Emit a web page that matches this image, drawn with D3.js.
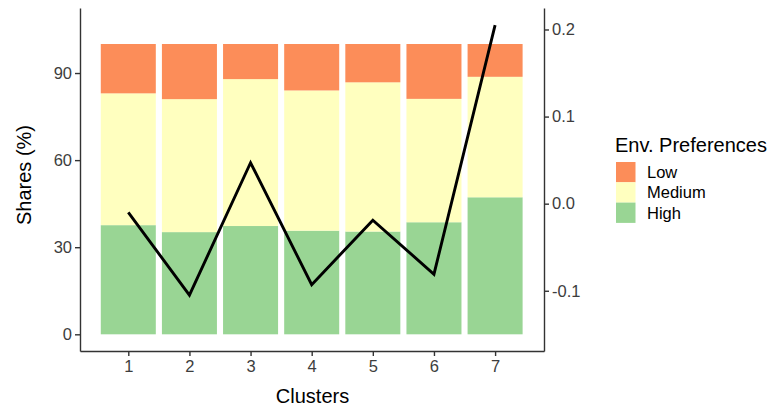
<!DOCTYPE html>
<html>
<head>
<meta charset="utf-8">
<script src="https://cdn.jsdelivr.net/npm/d3@7"></script>
<style>
  html, body { margin: 0; padding: 0; background: #fff; }
  svg { display: block; font-family: "Liberation Sans", Arial, Helvetica, sans-serif; }
</style>
</head>
<body>
<svg id="chart" width="773" height="409"></svg>
<script>
// ---- Data ----
const clusters = [1, 2, 3, 4, 5, 6, 7];
const categories = ["Low", "Medium", "High"];
const highShare   = [37.6, 35.2, 37.3, 35.7, 35.4, 38.6, 47.2];
const mediumShare = [45.4, 45.8, 50.6, 48.3, 51.4, 42.5, 41.5];
const lowShare    = [17.0, 19.0, 12.1, 16.0, 13.2, 18.9, 11.3];
const lineValues  = [-0.010, -0.105, 0.047, -0.093, -0.019, -0.081, 0.205];
const leftTicks   = [0, 30, 60, 90];
const rightTicks  = [-0.1, 0.0, 0.1, 0.2];
const colors = { Low: "#fc8d59", Medium: "#ffffbf", High: "#99d594" };
const secOffset = 45, secFactor = 300; // left = offset + factor * right

(function () {
// ---- Layout ----
const svg = d3.select("#chart");
const pL = 80, pR = 544, pT = 8, pB = 351;

const x = d3.scaleLinear().domain([0.21, 7.80]).range([pL, pR]);
const y = d3.scaleLinear().domain([-5.75, 112.4]).range([pB, pT]);
const yR = d3.scaleLinear()
  .domain([(-5.75 - secOffset) / secFactor, (112.4 - secOffset) / secFactor])
  .range([pB, pT]);

// stacked data: High at bottom, then Medium, then Low
const rows = clusters.map((c, i) => ({ cluster: c, High: highShare[i], Medium: mediumShare[i], Low: lowShare[i] }));
const stack = d3.stack().keys(["High", "Medium", "Low"])(rows);

const barW = 0.9;
svg.append("g").selectAll("g").data(stack).join("g")
  .attr("fill", d => colors[d.key])
  .selectAll("rect").data(d => d).join("rect")
  .attr("x", d => x(d.data.cluster - barW / 2))
  .attr("width", d => x(barW) - x(0))
  .attr("y", d => y(d[1]))
  .attr("height", d => y(d[0]) - y(d[1]));

// line (secondary axis)
const line = d3.line()
  .x((d, i) => x(clusters[i]))
  .y(d => yR(d));
svg.append("path").datum(lineValues)
  .attr("d", line)
  .attr("fill", "none")
  .attr("stroke", "#000")
  .attr("stroke-width", 2.9)
  .attr("stroke-linejoin", "miter");

// axes
const axisColor = "#333";
const textColor = "#3d3d3d";
function styleAxis(g) {
  g.select(".domain").attr("stroke", axisColor).attr("stroke-width", 1.4);
  g.selectAll(".tick line").attr("stroke", axisColor).attr("stroke-width", 1.4);
  g.selectAll(".tick text").attr("fill", textColor).attr("font-size", 16.5)
    .attr("font-family", "Liberation Sans, Arial, sans-serif");
}

const gx = svg.append("g").attr("transform", `translate(0,${pB})`)
  .call(d3.axisBottom(x).tickValues(clusters).tickFormat(d3.format("d")).tickSizeInner(5).tickSizeOuter(0).tickPadding(4));
styleAxis(gx);

const gy = svg.append("g").attr("transform", `translate(${pL},0)`)
  .call(d3.axisLeft(y).tickValues(leftTicks).tickSizeInner(5).tickSizeOuter(0).tickPadding(3));
styleAxis(gy);

const gr = svg.append("g").attr("transform", `translate(${pR},0)`)
  .call(d3.axisRight(yR).tickValues(rightTicks).tickFormat(d3.format(".1f")).tickSizeInner(5).tickSizeOuter(0).tickPadding(3));
styleAxis(gr);
gr.selectAll(".tick text").text(d => d3.format(".1f")(d).replace("−", "-"));

// axis titles
svg.append("text")
  .attr("x", (pL + pR) / 2 + 0.5).attr("y", 403)
  .attr("text-anchor", "middle").attr("font-size", 20).attr("fill", "#000")
  .text("Clusters");
svg.append("text")
  .attr("transform", `translate(31,175) rotate(-90)`)
  .attr("text-anchor", "middle").attr("font-size", 20).attr("fill", "#000")
  .text("Shares (%)");

// legend
const lg = svg.append("g");
lg.append("text").attr("x", 615).attr("y", 152)
  .attr("font-size", 20).attr("fill", "#000").text("Env. Preferences");
categories.forEach((k, i) => {
  lg.append("rect").attr("x", 616).attr("y", 162 + i * 20.3)
    .attr("width", 19.5).attr("height", 20.3).attr("fill", colors[k]);
  lg.append("text").attr("x", 647).attr("y", 162 + i * 20.3 + 16)
    .attr("font-size", 16.5).attr("fill", "#000").text(k);
});
})();
</script>
</body>
</html>
